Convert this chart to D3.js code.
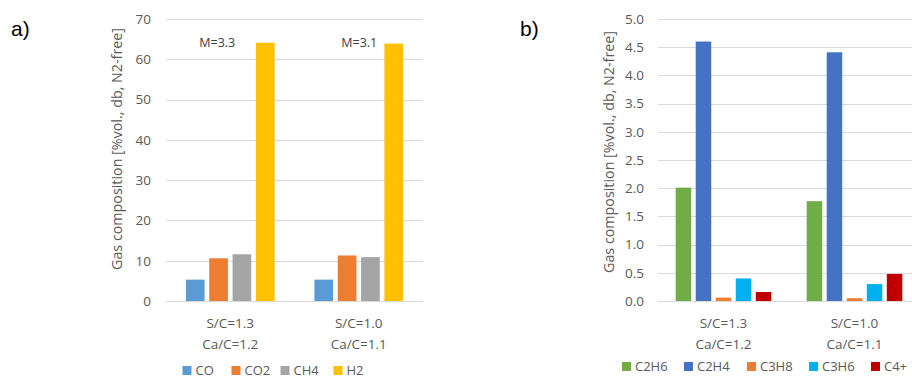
<!DOCTYPE html>
<html><head><meta charset="utf-8">
<script src="https://cdn.jsdelivr.net/npm/d3@7"></script>
<style>
body{margin:0;background:#fff;}
svg{display:block;font-family:"Open Sans",sans-serif;}
</style></head>
<body><svg id="c" width="912" height="379"></svg>
<script>
// ---- data ----
const categories = [["S/C=1.3","Ca/C=1.2"],["S/C=1.0","Ca/C=1.1"]];
const groupKeys = ["g1","g2"];
const seriesA = ["CO","CO2","CH4","H2"];
const colorsA = ["#5B9BD5","#ED7D31","#A5A5A5","#FFC000"];
const valuesA = [[5.3,10.6,11.6,64.1],[5.3,11.3,10.9,63.9]];
const annotationsA = ["M=3.3","M=3.1"];
const ticksA = [0,10,20,30,40,50,60,70];

const seriesB = ["C2H6","C2H4","C3H8","C3H6","C4+"];
const colorsB = ["#70AD47","#4472C4","#ED7D31","#00B0F0","#C00000"];
const valuesB = [[2.01,4.60,0.06,0.40,0.16],[1.77,4.41,0.05,0.30,0.48]];
const ticksB = [0,0.5,1,1.5,2,2.5,3,3.5,4,4.5,5];

const yTitle = "Gas composition [%vol., db, N2-free]";

const svg = d3.select("#c");
const txt = "#595959";

function panel(opt){
  const g = svg.append("g");
  const y = d3.scaleLinear().domain([0, opt.ymax]).range([301, 19]);
  const x0 = d3.scaleBand().domain(groupKeys).range([opt.x0, opt.x1]).paddingInner(opt.pi).paddingOuter(opt.po);
  const x1 = d3.scaleBand().domain(opt.series).range([0, x0.bandwidth()]).paddingInner(opt.ip);
  // grid
  g.selectAll("line.grid").data(opt.ticks).join("line")
    .attr("x1", opt.x0).attr("x2", opt.x1)
    .attr("y1", d=>Math.round(y(d))+0.5).attr("y2", d=>Math.round(y(d))+0.5)
    .attr("stroke", "#D9D9D9").attr("stroke-width", 1);
  // tick labels
  g.selectAll("text.tick").data(opt.ticks).join("text")
    .attr("x", opt.tickX).attr("y", d=>y(d)).attr("dy","0.36em")
    .attr("text-anchor","end").attr("font-size",13.5).attr("fill",txt)
    .text(opt.fmt);
  // bars
  groupKeys.forEach((gk, gi)=>{
    const gg = g.append("g").attr("transform",`translate(${x0(gk)},0)`);
    gg.selectAll("rect").data(opt.values[gi]).join("rect")
      .attr("x",(d,i)=>x1(opt.series[i])).attr("width",x1.bandwidth())
      .attr("y",d=>y(d)).attr("height",d=>y(0)-y(d))
      .attr("fill",(d,i)=>opt.colors[i]);
    const cx = x0(gk)+x0.bandwidth()/2;
    g.append("text").attr("x",cx).attr("y",328).attr("text-anchor","middle")
      .attr("font-size",13.5).attr("fill",txt).text(categories[gi][0]);
    g.append("text").attr("x",cx).attr("y",349).attr("text-anchor","middle")
      .attr("font-size",13.5).attr("fill",txt).text(categories[gi][1]);
  });
  // y title
  g.append("text").attr("transform",`translate(${opt.titleX},${opt.titleY}) rotate(-90)`)
    .attr("text-anchor","middle").attr("font-size",14.3).attr("fill",txt).text(yTitle);
  // panel label
  g.append("text").attr("x",opt.labelX).attr("y",36).attr("font-family","'Liberation Sans',Arial,sans-serif")
    .attr("font-size",21).attr("fill","#000").text(opt.label);
  // legend
  opt.series.forEach((s,i)=>{
    const lx = opt.legendX[i];
    g.append("rect").attr("x",lx).attr("y",opt.legendY-4.5).attr("width",9).attr("height",9).attr("fill",opt.colors[i]);
    g.append("text").attr("x",lx+13).attr("y",opt.legendY).attr("dy","0.35em").attr("font-size",13).attr("fill",txt).text(s);
  });
  return {x0, x1, y, g};
}

const A = panel({ymax:70, x0:166, x1:423, pi:0.31, po:0.155, ip:0.2, series:seriesA, colors:colorsA,
  values:valuesA, ticks:ticksA, fmt:d=>d, tickX:151, titleX:122, titleY:149, labelX:11, label:"a)",
  legendX:[182.5,231.5,280.5,333.5], legendY:370.5});
const annOffsets = [-13, 0.5];
groupKeys.forEach((gk,gi)=>{
  const cx = A.x0(gk) + A.x0.bandwidth()/2 + annOffsets[gi];
  A.g.append("text").attr("x",cx).attr("y",43).attr("dy","0.35em").attr("text-anchor","middle")
    .attr("font-size",12.5).attr("fill","#404040").text(annotationsA[gi]);
});

panel({ymax:5, x0:658, x1:920, pi:0.27, po:0.135, ip:0.225, series:seriesB, colors:colorsB,
  values:valuesB, ticks:ticksB, fmt:d3.format(".1f"), tickX:644, titleX:614, titleY:152, labelX:520, label:"b)",
  legendX:[622,684,747,809,871], legendY:366.5});
</script></body></html>
